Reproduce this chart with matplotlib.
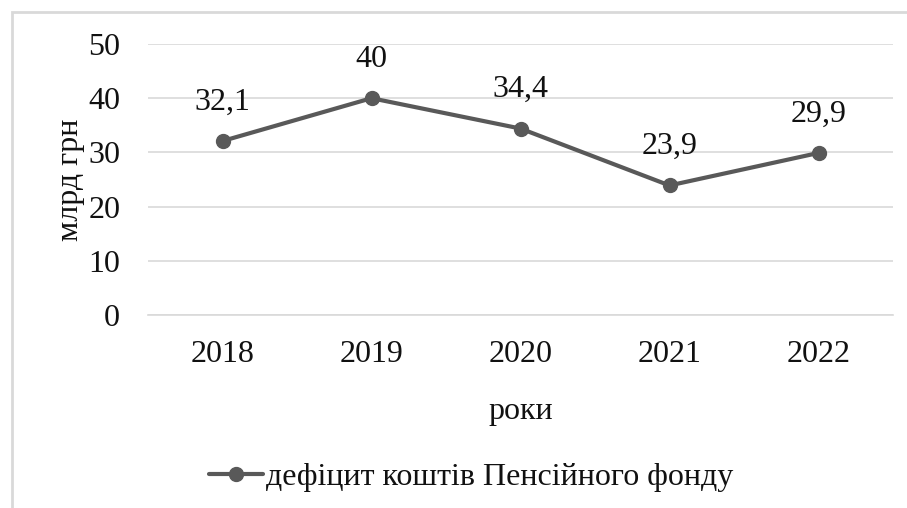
import matplotlib.pyplot as plt
from matplotlib.patches import Rectangle

years = ['2018', '2019', '2020', '2021', '2022']
deficit = [32.1, 40, 34.4, 23.9, 29.9]
labels = ['32,1', '40', '34,4', '23,9', '29,9']

plt.rcParams['font.family'] = ['Liberation Serif', 'DejaVu Serif']
fs = 23

fig = plt.figure(figsize=(9.07, 5.08), dpi=100)
ax = fig.add_axes([148/907, 193/508, 745/907, 271/508])

x = range(len(years))
ax.plot(x, deficit, color='#595959', linewidth=3, marker='o', markersize=10,
        label='дефіцит коштів Пенсійного фонду', solid_capstyle='round')

# підписи даних над точками
for i, v in enumerate(deficit):
    ax.annotate(labels[i], (i, v), textcoords='offset points', xytext=(0, 28),
                ha='center', va='center', fontsize=fs, color='#111111')

ax.set_xlim(-0.5, len(years) - 0.5)
ax.set_ylim(0, 50)
ax.set_yticks(range(0, 51, 10))
ax.set_xticks(list(x))
ax.set_xticklabels(years)
ax.grid(axis='y', color='#d9d9d9', linewidth=1.2)
ax.set_axisbelow(True)
for s in ['top', 'right', 'left']:
    ax.spines[s].set_visible(False)
ax.spines['bottom'].set_color('#d9d9d9')
ax.spines['bottom'].set_linewidth(1.2)
ax.tick_params(length=0, labelsize=fs, colors='#111111')
ax.tick_params(axis='y', pad=20)
ax.tick_params(axis='x', pad=18)

ax.set_xlabel('роки', fontsize=fs, color='#111111', labelpad=20)
ax.set_ylabel('млрд грн', fontsize=fs, color='#111111', labelpad=2)

fig.legend(loc='center', bbox_to_anchor=(471/907, 1 - 477/508), frameon=False,
           fontsize=fs, handlelength=1.7, handletextpad=0.1, labelcolor='#111111')

# рамка діаграми
fig.patches.append(Rectangle((11.5/907, -0.1), 1.1, 1 - 12/508 + 0.1,
                             transform=fig.transFigure, fill=False,
                             edgecolor='#d9d9d9', linewidth=2))

plt.savefig('out.png', dpi=100)
